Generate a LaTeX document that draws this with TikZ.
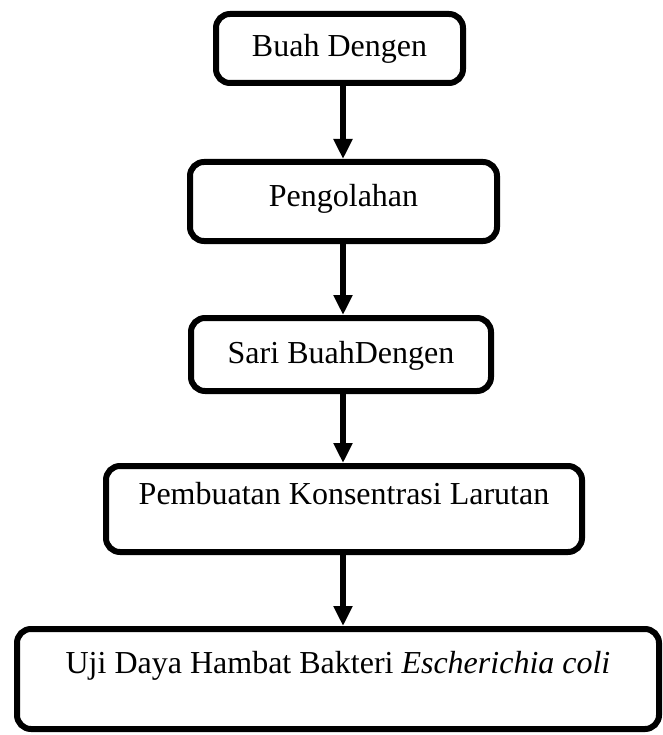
\documentclass[tikz,border=0pt]{standalone}
\usepackage{fontspec}
\setmainfont{Liberation Serif}
\usetikzlibrary{arrows.meta}
\tikzset{
  flowbox/.style={draw, line width=6pt, rounded corners=14pt, inner sep=0pt,
    text height=22pt, font=\fontsize{32}{38}\selectfont},
  flowarrow/.style={line width=6pt, -{Triangle[length=20pt,width=18pt]}}
}
\begin{document}
\begin{tikzpicture}[x=1pt,y=-1pt]
    \useasboundingbox (0,0) rectangle (662,735);
    \node[flowbox, minimum width=247pt, minimum height=69pt, text depth=5pt] (buah) at (339.5,48.5) {Buah Dengen};
    \node[flowbox, minimum width=307pt, minimum height=79pt, text depth=11pt] (olah) at (343.5,201.5) {Pengolahan};
    \node[flowbox, minimum width=300pt, minimum height=73pt, text depth=5pt] (sari) at (341,354.5) {Sari BuahDengen};
    \node[flowbox, minimum width=476pt, minimum height=86pt, text depth=32pt] (larutan) at (344,509) {Pembuatan Konsentrasi Larutan};
    \node[flowbox, minimum width=642pt, minimum height=100pt, text depth=34pt] (uji) at (338,679) {Uji Daya Hambat Bakteri \textit{Escherichia coli}};
    \coordinate (axis) at (343,0);
    \draw[flowarrow] (buah.south -| axis) -- (olah.north -| axis);
    \draw[flowarrow] (olah.south -| axis) -- (sari.north -| axis);
    \draw[flowarrow] (sari.south -| axis) -- (larutan.north -| axis);
    \draw[flowarrow] (larutan.south -| axis) -- (uji.north -| axis);
\end{tikzpicture}
\end{document}
